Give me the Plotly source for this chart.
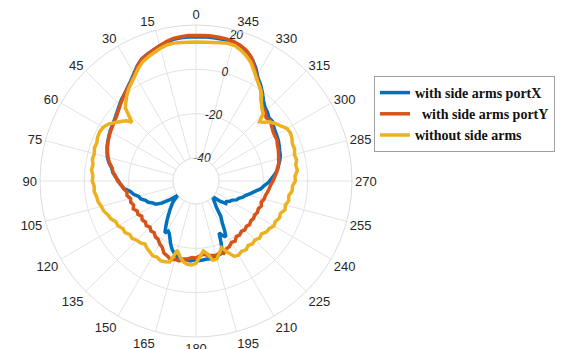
import plotly.graph_objects as go

# angles (deg, counter-clockwise from top) and gain values (dB)
theta_x = [0, 3, 6, 9, 12, 15, 18, 21, 24, 27, 30, 33, 36, 39, 42, 45, 48, 51, 54, 57, 60, 63, 66, 69, 72,
           75, 78, 81, 84, 87, 90, 93, 96, 99, 102, 105, 108, 111, 114, 117, 120, 123, 126, 128, 130, 132,
           135, 138, 141, 144, 147, 149, 151, 153, 155, 158, 161, 164, 167, 170, 173, 176, 179, 182, 185,
           188, 191, 194, 197, 200, 202, 204, 206, 208, 210, 212, 215, 218, 221, 224, 227, 230, 233, 236,
           239, 242, 245, 248, 251, 254, 257, 260, 263, 266, 269, 272, 275, 278, 281, 284, 287, 290, 293,
           296, 299, 302, 305, 308, 311, 314, 317, 320, 323, 326, 329, 332, 335, 338, 341, 344, 347, 350,
           353, 356, 360]
r_x = [14.6, 14.7, 14.6, 14.3, 13.6, 12.8, 11.8, 10.9, 9.9, 8.0, 5.6, 3.6, 2.0, 0.6, -0.4, -1.6, -2.8,
       -3.8, -4.6, -5.2, -5.6, -6.2, -6.8, -7.4, -8.2, -9.0, -10.2, -11.8, -12.6, -14.0, -15.4, -16.4,
       -17.8, -20.4, -21.6, -23.6, -24.2, -26.0, -26.8, -28.6, -29.4, -32.0, -36.5, -40.0, -38.5, -36.5,
       -34.8, -32.8, -30.6, -28.0, -25.2, -23.1, -24.5, -23.8, -22.4, -19.8, -17.5, -16.0, -14.8, -14.4,
       -14.6, -14.2, -14.8, -14.4, -14.6, -14.8, -14.6, -15.2, -15.4, -15.8, -20.0, -24.8, -23.0, -21.8,
       -24.5, -27.9, -31.0, -35.5, -37.5, -39.2, -40.0, -36.0, -33.5, -33.8, -32.6, -32.0, -30.2, -29.6,
       -28.0, -27.0, -25.2, -23.4, -21.0, -19.6, -17.6, -16.2, -14.6, -13.2, -12.4, -11.4, -10.6, -10.2,
       -9.6, -9.0, -8.6, -8.2, -7.6, -6.6, -6.8, -5.6, -4.8, -3.0, -0.6, 1.8, 3.9, 7.2, 10.0, 12.1, 13.4,
       14.2, 14.6, 14.7, 14.7, 14.7, 14.6]

theta_y = [0, 3, 6, 9, 12, 15, 18, 21, 24, 27, 30, 33, 36, 39, 42, 45, 48, 51, 54, 57, 60, 63, 66, 69, 72,
           75, 78, 81, 84, 87, 90, 93, 96, 99, 102, 105, 108, 111, 114, 117, 120, 123, 126, 129, 132, 135,
           138, 141, 144, 147, 150, 153, 156, 159, 162, 165, 168, 171, 174, 177, 180, 183, 186, 189, 192,
           195, 198, 201, 204, 207, 210, 213, 216, 219, 222, 225, 228, 231, 234, 237, 240, 243, 246, 249,
           252, 255, 258, 261, 264, 267, 270, 273, 276, 279, 282, 285, 288, 291, 294, 297, 300, 303, 306,
           309, 312, 315, 318, 321, 324, 327, 330, 333, 336, 339, 342, 345, 348, 351, 354, 357, 360]
r_y = [15.3, 15.3, 15.1, 14.7, 13.9, 12.8, 11.8, 10.8, 9.8, 7.8, 5.2, 3.2, 1.8, 0.5, -0.8, -2.0, -3.2,
       -4.2, -4.8, -5.4, -5.8, -6.4, -6.9, -7.6, -8.4, -9.3, -10.4, -12.0, -12.8, -14.2, -15.0, -16.6,
       -17.5, -18.8, -18.6, -19.8, -19.4, -20.2, -19.4, -20.6, -20.2, -21.2, -20.4, -21.0, -20.2, -21.0,
       -20.0, -20.4, -19.2, -19.0, -17.6, -16.8, -14.8, -14.2, -13.2, -13.8, -13.5, -14.8, -15.0, -15.8,
       -15.6, -16.6, -17.2, -16.4, -16.0, -15.6, -16.2, -15.4, -16.8, -17.2, -18.4, -18.0, -19.4, -19.0,
       -19.8, -19.2, -19.8, -19.2, -19.8, -19.4, -19.8, -19.2, -19.6, -18.8, -19.4, -18.6, -18.4, -17.8,
       -17.2, -16.6, -15.6, -14.8, -13.8, -13.2, -12.2, -11.8, -11.2, -10.6, -10.2, -9.4, -9.4, -9.0,
       -8.2, -7.2, -7.8, -6.2, -5.6, -3.6, -0.3, 1.8, 4.4, 7.6, 10.8, 12.8, 14.0, 14.8, 15.2, 15.3, 15.4,
       15.3, 15.3]

theta_n = [0, 3, 6, 9, 12, 15, 18, 21, 24, 27, 30, 33, 36, 39, 42, 44, 46, 47.5, 49, 51, 54, 57, 60, 63,
           66, 69, 72, 75, 78, 81, 84, 87, 90, 93, 96, 99, 102, 105, 108, 111, 114, 117, 120, 123, 126, 129,
           132, 135, 138, 141, 144, 147, 150, 153, 156, 159, 162, 165, 168, 171, 174, 177, 180, 183, 186,
           189, 192, 195, 198, 201, 204, 207, 210, 213, 216, 219, 222, 225, 228, 231, 234, 237, 240, 243,
           246, 249, 252, 255, 258, 261, 264, 267, 270, 273, 276, 279, 282, 285, 288, 291, 294, 297, 300,
           303, 306, 309, 311, 313, 315, 317, 320, 323, 326, 329, 332, 335, 338, 341, 344, 347, 350, 353,
           356, 360]
r_n = [12.3, 12.3, 12.4, 12.6, 12.4, 11.6, 10.6, 9.6, 8.6, 6.8, 4.6, 2.8, 1.2, -0.8, -3.0, -4.5, -8.5,
       -11.2, -9.0, -7.5, -5.5, -3.2, -2.0, -1.6, -1.8, -2.4, -2.2, -2.9, -2.6, -3.3, -3.0, -3.8, -3.6,
       -4.4, -4.2, -5.0, -5.2, -6.2, -6.6, -7.8, -8.4, -9.8, -9.8, -11.0, -10.8, -12.0, -11.6, -12.6,
       -12.8, -13.8, -12.8, -12.2, -11.4, -11.8, -11.0, -11.4, -12.0, -18.0, -15.5, -13.5, -12.6, -12.4,
       -13.2, -16.2, -18.6, -17.0, -13.8, -14.0, -16.2, -18.2, -15.0, -12.2, -11.8, -12.6, -12.0, -13.0,
       -12.2, -12.8, -11.8, -12.4, -11.2, -11.0, -9.8, -10.2, -9.2, -9.6, -8.2, -8.6, -7.6, -8.0, -6.8,
       -6.8, -5.6, -5.6, -4.4, -4.8, -4.0, -4.4, -3.6, -3.8, -3.0, -2.6, -3.0, -4.8, -6.2, -8.0, -10.0,
       -11.2, -7.5, -6.6, -4.5, -1.2, 1.0, 3.0, 5.6, 8.4, 10.4, 12.0, 13.2, 13.4, 13.0, 12.6, 12.4, 12.3]

names = ["with side arms portX", "  with side arms portY", "without side arms"]
colors = ["#0072BD", "#D95319", "#EDB120"]
angle_ticks = list(range(0, 360, 15))
radial_ticks = [-40, -20, 0, 20]

fig = go.Figure()
for th, r, nm, c in zip([theta_x, theta_y, theta_n], [r_x, r_y, r_n], names, colors):
    fig.add_trace(go.Scatterpolar(theta=th, r=r, mode="lines", name=nm,
                                  line=dict(color=c, width=3.5)))

# radial tick labels, centred on the radial axis line as in the original
RAXIS_THETA = 345
label_pos = ["middle center", "middle center", "middle center", "bottom center"]
fig.add_trace(go.Scatterpolar(
    theta=[RAXIS_THETA] * len(radial_ticks), r=radial_ticks,
    mode="text", text=[str(v) for v in radial_ticks],
    textposition=label_pos, showlegend=False, hoverinfo="skip", cliponaxis=False,
    textfont=dict(family="Liberation Sans, Arial, sans-serif", size=12,
                  color="#262626", style="italic")))

# the page body adds an 8 px margin, so the figure is sized and placed to compensate
OFF = 8
W, H = 568 - OFF, 349 - OFF
cx, cy, R = 196 - OFF, 181 - OFF, 156
fig.update_layout(
    width=W, height=H,
    margin=dict(l=0, r=0, t=0, b=0),
    paper_bgcolor="white",
    showlegend=True,
    legend=dict(x=(374 - OFF) / W, y=1 - (76 - OFF) / H, xanchor="left", yanchor="top",
                bgcolor="white", bordercolor="#a0a0a0", borderwidth=1,
                font=dict(family="Liberation Serif, Times New Roman, serif", size=14,
                          color="#111111", weight="bold"),
                tracegroupgap=0, itemwidth=30),
    polar=dict(
        domain=dict(x=[(cx - R) / W, (cx + R) / W], y=[(H - cy - R) / H, (H - cy + R) / H]),
        bgcolor="white",
        hole=23 / 156,
        angularaxis=dict(rotation=90, direction="counterclockwise",
                         tickmode="array", tickvals=angle_ticks,
                         ticktext=[str(a) for a in angle_ticks],
                         ticks="", showline=True, linecolor="#dcdcdc", linewidth=1,
                         gridcolor="#e3e3e3", gridwidth=1,
                         tickfont=dict(family="Liberation Sans, Arial, sans-serif", size=13,
                                       color="#262626")),
        radialaxis=dict(range=[-40, 20], tickmode="array", tickvals=radial_ticks,
                        showticklabels=False, angle=75, showline=False, ticks="",
                        gridcolor="#e3e3e3", gridwidth=1),
    ),
)

fig.write_html("out.html")
